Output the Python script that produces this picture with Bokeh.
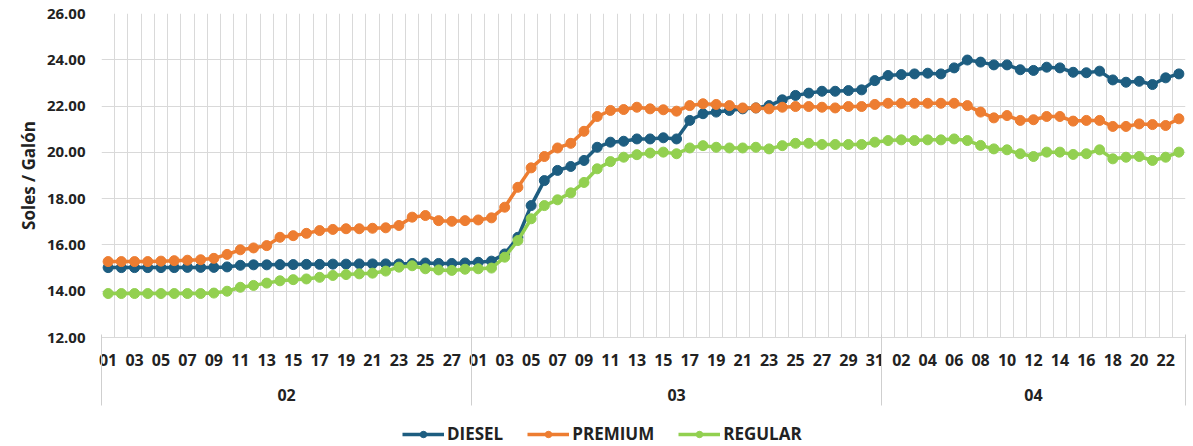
from bokeh.plotting import figure
from bokeh.layouts import column
from bokeh.models import (Range1d, FixedTicker, LinearAxis, Legend, LegendItem,
                          PrintfTickFormatter, Grid)
from bokeh.embed import file_html
from bokeh.resources import INLINE

# ---- categories ----
meses = ["02", "03", "04"]
dias_feb = [f"{d:02d}" for d in range(1, 29)]
dias_mar = [f"{d:02d}" for d in range(1, 32)]
dias_abr = [f"{d:02d}" for d in range(1, 24)]
dias_por_mes = [dias_feb, dias_mar, dias_abr]
dias = dias_feb + dias_mar + dias_abr

# ---- series (Soles / Galón) ----
diesel = [
    15.02, 15.02, 15.02, 15.02, 15.02, 15.02, 15.03, 15.03, 15.03, 15.05,
    15.12, 15.14, 15.14, 15.15, 15.15, 15.16, 15.16, 15.17, 15.17, 15.18,
    15.18, 15.18, 15.18, 15.20, 15.22, 15.20, 15.20, 15.22,
    15.25, 15.30, 15.61, 16.33, 17.70, 18.78, 19.22, 19.39, 19.65, 20.22,
    20.44, 20.48, 20.58, 20.58, 20.63, 20.58, 21.38, 21.67, 21.74, 21.81,
    21.88, 21.92, 22.02, 22.27, 22.46, 22.56, 22.64, 22.64, 22.67, 22.70,
    23.10,
    23.32, 23.36, 23.39, 23.42, 23.39, 23.65, 23.99, 23.90, 23.78, 23.78,
    23.57, 23.54, 23.68, 23.65, 23.46, 23.44, 23.51, 23.13, 23.03, 23.07,
    22.93, 23.22, 23.39,
]
premium = [
    15.28, 15.28, 15.28, 15.28, 15.30, 15.32, 15.34, 15.36, 15.42, 15.59,
    15.79, 15.87, 15.97, 16.33, 16.40, 16.50, 16.62, 16.67, 16.70, 16.70,
    16.72, 16.74, 16.84, 17.20, 17.27, 17.05, 17.02, 17.05,
    17.08, 17.17, 17.63, 18.49, 19.33, 19.82, 20.19, 20.39, 20.91, 21.55,
    21.81, 21.85, 21.95, 21.88, 21.84, 21.78, 22.02, 22.10, 22.07, 22.02,
    21.92, 21.92, 21.88, 21.95, 21.98, 21.98, 21.95, 21.92, 21.98, 21.98,
    22.07,
    22.12, 22.12, 22.12, 22.12, 22.12, 22.12, 22.02, 21.74, 21.49, 21.59,
    21.38, 21.41, 21.55, 21.55, 21.35, 21.38, 21.38, 21.12, 21.12, 21.23,
    21.20, 21.16, 21.45,
]
regular = [
    13.90, 13.90, 13.90, 13.90, 13.90, 13.90, 13.90, 13.90, 13.92, 14.00,
    14.17, 14.25, 14.35, 14.45, 14.50, 14.53, 14.60, 14.68, 14.72, 14.75,
    14.78, 14.87, 15.04, 15.10, 14.97, 14.92, 14.90, 14.95,
    14.97, 15.00, 15.47, 16.19, 17.13, 17.70, 17.95, 18.25, 18.70, 19.29,
    19.60, 19.79, 19.90, 19.97, 20.01, 19.94, 20.19, 20.29, 20.22, 20.19,
    20.19, 20.22, 20.15, 20.29, 20.39, 20.39, 20.34, 20.34, 20.34, 20.34,
    20.44,
    20.51, 20.54, 20.51, 20.54, 20.54, 20.58, 20.51, 20.30, 20.15, 20.11,
    19.94, 19.82, 20.01, 20.01, 19.91, 19.94, 20.11, 19.72, 19.79, 19.82,
    19.65, 19.79, 20.01,
]
y_ticks = [12, 14, 16, 18, 20, 22, 24, 26]
series_names = ["DIESEL", "PREMIUM", "REGULAR"]

# ---- styles ----
colors = ["#1d5d80", "#ed7d31", "#92d050"]
FONT = "Open Sans"
TXT = "#222222"
GRID = "#d9d9d9"
SEP = "#cfcfcf"

n = len(dias)
x = list(range(n))

p = figure(width=1193, height=423, output_backend="svg", toolbar_location=None,
           x_range=Range1d(-0.5, n - 0.5), y_range=Range1d(12, 26),
           x_axis_location=None,
           min_border_left=101, min_border_right=8, min_border_top=13,
           min_border_bottom=86)
p.outline_line_color = None

# y axis
p.yaxis.ticker = FixedTicker(ticks=y_ticks)
p.yaxis.formatter = PrintfTickFormatter(format="%.2f")
p.yaxis.axis_line_color = None
p.yaxis.major_tick_line_color = None
p.yaxis.minor_tick_line_color = None
p.yaxis.major_tick_out = 0
p.yaxis.minor_tick_out = 0
p.yaxis.major_label_standoff = 16
p.yaxis.major_label_text_font = FONT
p.yaxis.major_label_text_font_style = "bold"
p.yaxis.major_label_text_font_size = "15px"
p.yaxis.major_label_text_color = TXT
p.yaxis.axis_label = "Soles / Galón"
p.yaxis.axis_label_text_font = FONT
p.yaxis.axis_label_text_font_style = "bold"
p.yaxis.axis_label_text_font_size = "17px"
p.yaxis.axis_label_text_color = TXT
p.yaxis.axis_label_standoff = 4

# grids
p.ygrid.grid_line_color = GRID
p.xgrid.visible = False
bounds_all = [i - 0.5 for i in range(n + 1)]
p.add_layout(Grid(dimension=0, ticker=FixedTicker(ticks=bounds_all),
                  grid_line_color=GRID))

# month boundaries
lengths = [len(d) for d in dias_por_mes]
month_bounds = [-0.5]
for L in lengths:
    month_bounds.append(month_bounds[-1] + L)

# day axis
day_ticks = list(range(0, n, 2))
axA = LinearAxis(ticker=FixedTicker(ticks=day_ticks),
                 major_label_overrides={i: dias[i] for i in day_ticks},
                 major_tick_out=0, major_tick_in=0,
                 minor_tick_out=0, minor_tick_in=0,
                 major_tick_line_color=None, minor_tick_line_color=None,
                 axis_line_color=GRID,
                 major_label_standoff=16,
                 major_label_text_font=FONT,
                 major_label_text_font_style="bold",
                 major_label_text_font_size="16px",
                 major_label_text_color=TXT)
p.add_layout(axA, "below")

# month axis (separators drawn as its minor ticks)
p.extra_x_ranges = {"meses": Range1d(-1, 2 * n - 1)}
centers2 = [int(round(month_bounds[k] + month_bounds[k + 1])) for k in range(len(meses))]
bounds2 = [2 * b for b in month_bounds]
axB = LinearAxis(x_range_name="meses",
                 ticker=FixedTicker(ticks=centers2, minor_ticks=bounds2),
                 major_label_overrides={c: m for c, m in zip(centers2, meses)},
                 axis_line_color=None, major_tick_line_color=None,
                 major_tick_out=0, major_tick_in=0,
                 minor_tick_in=34, minor_tick_out=37,
                 minor_tick_line_color=SEP,
                 major_label_standoff=-17,
                 major_label_text_font=FONT,
                 major_label_text_font_style="bold",
                 major_label_text_font_size="16px",
                 major_label_text_color=TXT)
p.add_layout(axB, "below")

# series
for name, vals, col in zip(series_names, [diesel, premium, regular], colors):
    p.line(x, vals, line_width=3.5, color=col)
    p.scatter(x, vals, size=10, color=col)

# ---- legend strip ----
q = figure(width=1193, height=23, output_backend="svg", toolbar_location=None,
           x_range=Range1d(1000, 1001), y_range=Range1d(1000, 1001),
           x_axis_location=None, y_axis_location=None,
           min_border_left=0, min_border_right=0, min_border_top=0,
           min_border_bottom=0)
q.outline_line_color = None
q.xgrid.visible = False
q.ygrid.visible = False
items = []
for name, vals, col in zip(series_names, [diesel, premium, regular], colors):
    l = q.line(x, vals, line_width=3.5, color=col)
    s = q.scatter(x, vals, size=10, color=col)
    items.append(LegendItem(label=name, renderers=[l, s]))
legend = Legend(items=items, location=(301, 1), orientation="horizontal",
                glyph_width=42, glyph_height=16, label_standoff=3, spacing=24,
                padding=0, margin=0, border_line_color=None,
                background_fill_alpha=0,
                label_text_font=FONT, label_text_font_style="bold",
                label_text_font_size="17px", label_text_color=TXT)
q.add_layout(legend)

layout = column(p, q, spacing=0)
open("out.html", "w").write(file_html(layout, INLINE))
